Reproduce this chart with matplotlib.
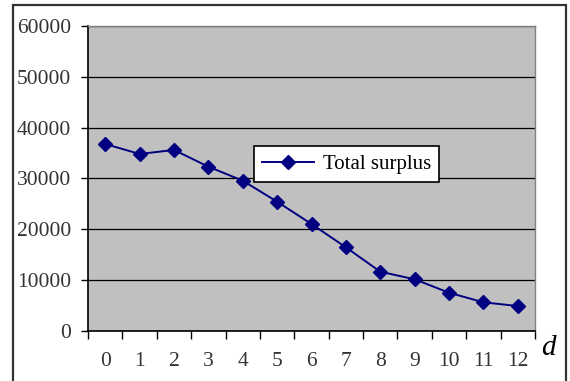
import matplotlib
matplotlib.use("Agg")
import matplotlib.pyplot as plt
from matplotlib.patches import Rectangle
import numpy as np

d_values = list(range(13))
total_surplus = [36770, 34800, 35590, 32300, 29540, 25400, 21010,
                 16420, 11620, 10120, 7480, 5590, 4860]
y_ticks = [0, 10000, 20000, 30000, 40000, 50000, 60000]
series_label = "Total surplus"
x_title = "d"

plt.rcParams["font.family"] = ["Liberation Serif", "DejaVu Serif"]

fig = plt.figure(figsize=(5.70, 3.81), dpi=100)
fig.patch.set_facecolor("white")

# outer chart frame
frame = Rectangle((13 / 570, -0.05), (566 - 13) / 570, 1.05 - 5 / 381,
                  transform=fig.transFigure, fill=False,
                  edgecolor="#333333", linewidth=1.6, clip_on=False)
fig.add_artist(frame)

ax = fig.add_axes([88 / 570, 1 - 330.7 / 381, (535 - 88) / 570, (330.7 - 26) / 381])
ax.set_facecolor("#C0C0C0")

x = np.array(d_values)
ax.plot(x, total_surplus, color="#000080", linewidth=1.4, marker="D",
        markersize=7.5, markerfacecolor="#000080", markeredgecolor="#000080",
        label=series_label, zorder=3)

ax.set_xlim(-0.5, 12.5)
ax.set_ylim(0, 60000)
ax.set_yticks(y_ticks)
ax.set_yticklabels([str(v) for v in y_ticks], fontsize=15.5, color="#333333")
ax.yaxis.grid(True, color="black", linewidth=0.9)
ax.set_axisbelow(True)

# category boundaries carry the tick marks, centres carry the labels
ax.set_xticks(np.arange(-0.5, 13, 1.0))
ax.set_xticklabels([])
ax.set_xticks(x, minor=True)
ax.set_xticklabels([str(v) for v in d_values], minor=True, fontsize=15.5, color="#333333")
ax.tick_params(axis="x", which="major", direction="out", length=6, width=1.0, color="black")
ax.tick_params(axis="x", which="minor", length=0, pad=15)
ax.tick_params(axis="y", direction="out", length=5, width=1.0, color="black", pad=7)

for side in ("left", "bottom"):
    ax.spines[side].set_color("black")
    ax.spines[side].set_linewidth(1.2)
for side in ("top", "right"):
    ax.spines[side].set_color("#808080")
    ax.spines[side].set_linewidth(1.0)

leg = ax.legend(loc="upper left", bbox_to_anchor=(0.371, 0.606), borderaxespad=0,
                fontsize=15, frameon=True, fancybox=False, handlelength=2.5,
                borderpad=0.4, handletextpad=0.4)
leg.get_frame().set_edgecolor("black")
leg.get_frame().set_linewidth(1.2)
leg.get_frame().set_facecolor("white")
leg.get_frame().set_alpha(1.0)

fig.text(548 / 570, 1 - 355 / 381, x_title, fontsize=21, style="italic",
         ha="center", va="baseline", color="black")

fig.savefig("out.png", dpi=100)
